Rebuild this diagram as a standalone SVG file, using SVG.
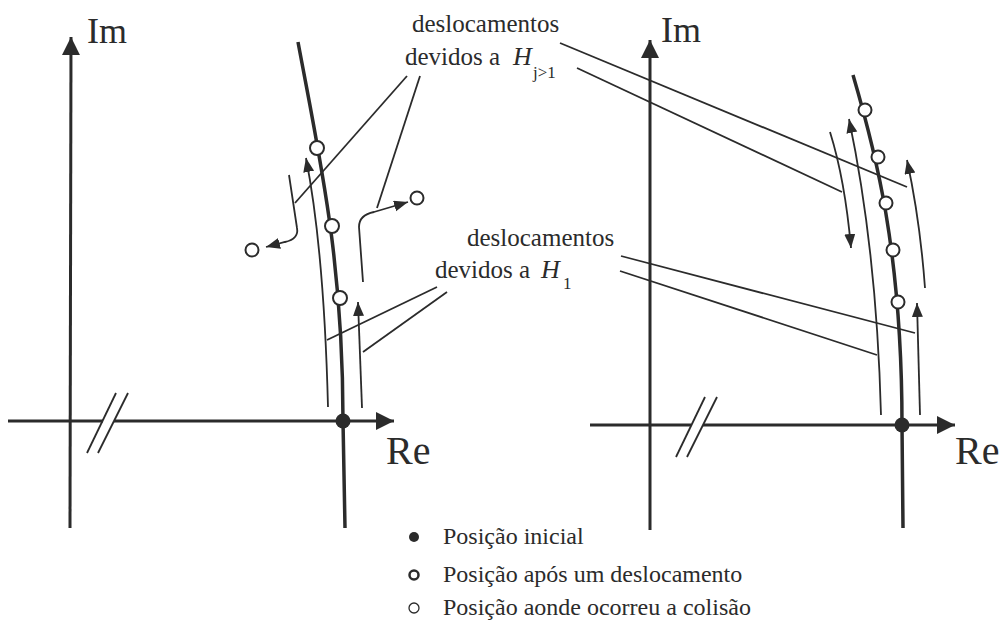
<svg xmlns="http://www.w3.org/2000/svg" width="1002" height="639" viewBox="0 0 1002 639" font-family="'Liberation Serif','Times New Roman',serif">
<style>
.ax{stroke:#2b2b2b;stroke-width:3;fill:none}
.cv{stroke:#2b2b2b;stroke-width:3.5;fill:none}
.th{stroke:#2b2b2b;stroke-width:1.8;fill:none}
.pt{stroke:#2b2b2b;stroke-width:1.8;fill:none}
.oc{fill:#fff;stroke:#2b2b2b;stroke-width:2}
.dot{fill:#2b2b2b}
.t{font-family:"Liberation Serif","Times New Roman",serif;fill:#2b2b2b}
.lab{font-size:25px}
.big{font-size:36px}
.re{font-size:40px}
.leg{font-size:24px}
.it{font-style:italic;font-size:26px}
.sub{font-size:17px}
</style>
<defs>
<marker id="axa" markerWidth="20" markerHeight="20" refX="18" refY="9" orient="auto" markerUnits="userSpaceOnUse"><path d="M0,0 L18,9 L0,18 z" fill="#2b2b2b"/></marker>
<marker id="ta" markerWidth="16" markerHeight="12" refX="14" refY="5.5" orient="auto" markerUnits="userSpaceOnUse"><path d="M0,0 L14,5.5 L0,11 z" fill="#2b2b2b"/></marker>
</defs>
<rect width="1002" height="639" fill="#fff"/>

<g id="left-axes">
<line class="ax" x1="70" y1="528" x2="71" y2="37" marker-end="url(#axa)"/>
<line class="ax" x1="8" y1="421" x2="103" y2="421"/>
<line class="ax" x1="114" y1="421" x2="394" y2="421" marker-end="url(#axa)"/>
<line class="th" x1="87" y1="453" x2="116" y2="393"/>
<line class="th" x1="98" y1="453" x2="128" y2="393"/>
<text class="t big" x="87" y="43">Im</text>
<text class="t re" x="386" y="464">Re</text>
</g>

<g id="right-axes">
<line class="ax" x1="650" y1="530" x2="650" y2="40" marker-end="url(#axa)"/>
<line class="ax" x1="590" y1="425" x2="691" y2="425"/>
<line class="ax" x1="703" y1="425" x2="955" y2="425" marker-end="url(#axa)"/>
<line class="th" x1="676" y1="457" x2="705" y2="397"/>
<line class="th" x1="687" y1="457" x2="717" y2="397"/>
<text class="t big" x="661" y="42">Im</text>
<text class="t re" x="955" y="464">Re</text>
</g>

<g id="connectors">
<path class="th" d="M328,407 Q324,250 306,158" marker-end="url(#ta)"/>
<path class="th" d="M362,408 L358,302" marker-end="url(#ta)"/>
<path class="th" d="M289,175 L297,228 Q299,239 285,242 L266,247" marker-end="url(#ta)"/>
<path class="th" d="M363,282 L359,227 Q359,215 374,212 L408,202" marker-end="url(#ta)"/>
<path class="th" d="M830,132 Q845,180 851,248" marker-end="url(#ta)"/>
<path class="th" d="M881,415 C878,300 866,200 849,119" marker-end="url(#ta)"/>
<path class="th" d="M925,288 Q920,220 907,160" marker-end="url(#ta)"/>
<path class="th" d="M920,415 L917,303" marker-end="url(#ta)"/>
<line class="pt" x1="407" y1="76" x2="295" y2="203"/>
<line class="pt" x1="420" y1="76" x2="377" y2="208"/>
<line class="pt" x1="560" y1="43" x2="907" y2="187"/>
<line class="pt" x1="577" y1="68" x2="842" y2="192"/>
<line class="pt" x1="437" y1="287" x2="327" y2="340"/>
<line class="pt" x1="447" y1="292" x2="363" y2="352"/>
<line class="pt" x1="621" y1="256" x2="915" y2="333"/>
<line class="pt" x1="620" y1="271" x2="877" y2="355"/>
</g>

<g id="left-root-locus">
<path class="cv" d="M298,42 C320,160 343,260 343,421 L345,528"/>
<circle class="oc" cx="317" cy="148" r="7"/>
<circle class="oc" cx="332" cy="226" r="7"/>
<circle class="oc" cx="340" cy="298" r="7"/>
<circle class="oc" cx="252" cy="250" r="6.5"/>
<circle class="oc" cx="417" cy="198" r="6.5"/>
<circle class="dot" cx="343" cy="421" r="7.5"/>
</g>

<g id="right-root-locus">
<path class="cv" d="M853,75 C875,150 902,250 902,425 L903,528"/>
<circle class="oc" cx="865" cy="110" r="6.5"/>
<circle class="oc" cx="878" cy="157" r="6.5"/>
<circle class="oc" cx="886" cy="203" r="6.5"/>
<circle class="oc" cx="893" cy="250" r="6.5"/>
<circle class="oc" cx="898" cy="302" r="6.5"/>
<circle class="dot" cx="902" cy="425" r="7.5"/>
</g>

<g id="label-hj">
<text class="t lab" x="412" y="32">deslocamentos</text>
<text class="t lab" x="405" y="65">devidos a</text>
<text class="t it" x="513" y="65">H</text>
<text class="t sub" x="533" y="78">j&gt;1</text>
</g>

<g id="label-h1">
<text class="t lab" x="467" y="246">deslocamentos</text>
<text class="t lab" x="435" y="278">devidos a</text>
<text class="t it" x="541" y="278">H</text>
<text class="t sub" x="563" y="289">1</text>
</g>

<g id="legend">
<circle class="dot" cx="414" cy="537" r="5"/>
<text class="t leg" x="443" y="544">Posição inicial</text>
<circle cx="414" cy="575" r="4.5" fill="#fff" stroke="#2b2b2b" stroke-width="2.5"/>
<text class="t leg" x="443" y="582">Posição após um deslocamento</text>
<circle cx="414" cy="608" r="5" fill="#fff" stroke="#2b2b2b" stroke-width="1.3"/>
<text class="t leg" x="443" y="615">Posição aonde ocorreu a colisão</text>
</g>
</svg>
